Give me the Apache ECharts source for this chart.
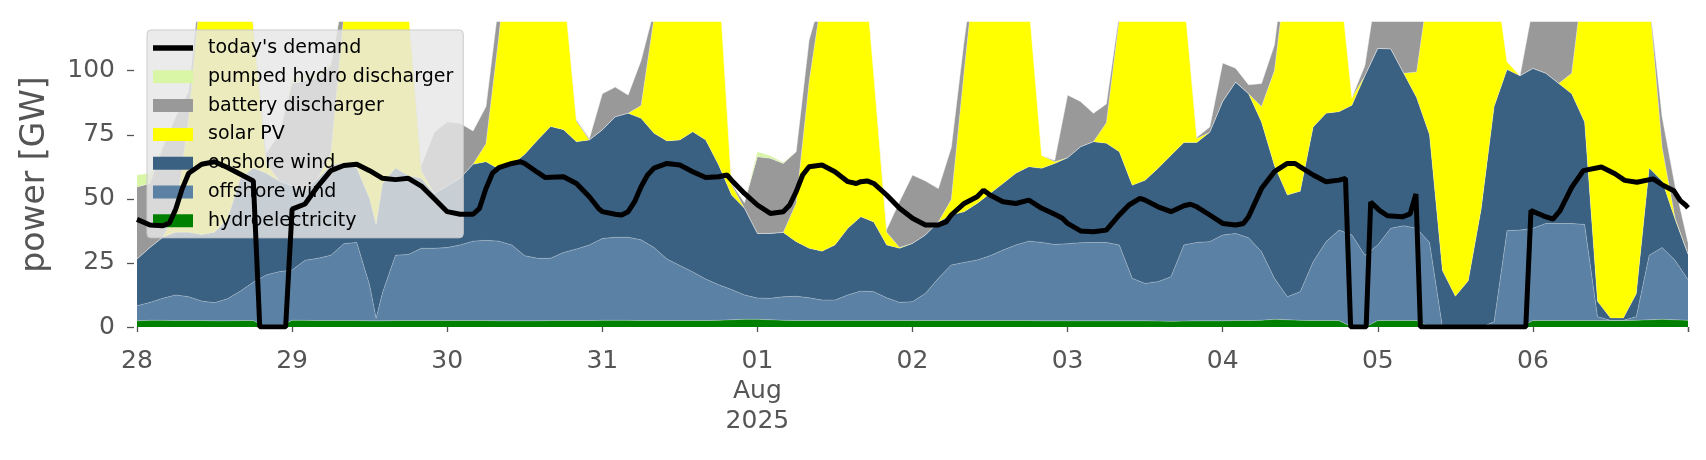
<!DOCTYPE html>
<html><head><meta charset="utf-8">
<script src="https://cdn.jsdelivr.net/npm/echarts@6/dist/echarts.min.js"></script>
<style>html,body{margin:0;padding:0;background:#fff}#c{width:1706px;height:460px}</style>
</head><body><div id="c"></div>
<script>
// hours since 2025-07-28 00:00
const hours = [
 0,2,4,6,8,10,12,14,16,18,20,22,
 24,26,28,30,32,34,36,37,38,40,42,44,46,
 48,50,52,54,56,58,60,62,64,66,68,70,
 72,74,76,78,80,82,84,86,88,90,92,94,
 96,98,100,102,104,106,108,110,112,114,116,118,
 120,122,124,126,128,130,132,134,136,138,140,142,
 144,146,148,150,152,154,156,158,160,162,164,166,
 168,170,172,174,176,178,180,182,184,186,188,190,
 192,194,196,198,200,202,204,206,208,210,212,214,
 216,218,220,222,224,226,228,230,232,234,236,238,
 240];
const hydro = [
 2.4,2.6,2.6,2.5,2.5,2.5,2.4,2.4,2.5,2.5,0,0,
 2.6,2.6,2.5,2.5,2.5,2.5,2.4,2.4,2.4,2.5,2.5,2.5,2.5,
 2.5,2.5,2.5,2.5,2.4,2.4,2.4,2.4,2.5,2.5,2.5,2.5,
 2.6,2.6,2.6,2.5,2.5,2.5,2.5,2.5,2.5,2.6,2.8,3.0,
 3.0,2.8,2.6,2.5,2.5,2.5,2.5,2.5,2.5,2.5,2.5,2.5,
 2.5,2.5,2.5,2.5,2.5,2.5,2.5,2.5,2.5,2.5,2.4,2.4,
 2.4,2.4,2.4,2.4,2.4,2.4,2.4,2.3,2.2,2.3,2.4,2.4,
 2.4,2.5,2.5,2.6,3.0,2.8,2.6,2.5,2.5,2.5,0,0,
 2.5,2.5,2.5,2.5,0,0,0,0,0,0,0,0,
 2.5,2.5,2.5,2.5,2.5,2.5,2.5,2.5,2.6,2.8,3.0,2.8,
 2.6];
const offshoreWind = [
 5.9,7.0,8.6,10.0,9.3,7.6,7.1,8.6,11.5,15,20.3,21.6,
 19.6,23.4,24.3,25.5,30,30.5,13.9,1.0,11.1,25.5,25.8,28.2,28.2,
 28.5,29.5,31,31.3,31.1,29.6,25.4,24.4,24.3,26.6,27.9,29.5,
 31.9,32.4,32.4,31.5,28.5,24,21.5,19,16.2,13.9,11.8,9.5,
 8.3,8.4,9.2,9.5,8.9,8,8,10,11.5,11.3,8.9,7.1,
 7.4,10.6,16.5,21.7,22.7,23.6,25.3,27.5,29.5,31,30.6,29.8,
 30.1,30.5,30.6,30.6,29.6,16.6,14.6,15.4,17.4,29.7,30.6,30.9,
 33.5,34,32.3,26.8,16,9,11.2,23,30.8,35.3,35.9,28,
 29.5,36,37,36,33,0,0,0,0,2,37.6,37.8,
 36,37.9,37.9,37.9,37.5,1.5,0.1,0.1,1.4,25.2,28,23.2,
 15.9];
const onshoreWind = [
 18.2,21.4,23.8,24.5,25.2,25.9,27.5,31,44,44.5,39.7,35.4,
 32.8,27,31.2,35,31.5,29,33.7,36.6,42.5,34,30.7,27.3,21.3,
 24,26,30,30.7,28.1,31.2,39.6,46.2,51.4,47.9,41.9,41,
 42.4,47,48.4,47.4,44.6,46.1,49,54.7,54.3,46.7,36.9,33.8,
 25.2,25.3,25.1,21.3,19.3,19.1,21.5,26,29,27.2,20.6,21.1,
 22.7,22.8,22,19.5,19.8,22.1,24.3,26,28,29,28.9,31.6,
 33.5,37.4,39.3,38.7,36.4,36.3,40.3,44.2,47.4,40,39,42.7,
 52.1,59,56.2,50.6,44,39.7,39.2,52.5,50.1,46.2,50.6,70,
 76.7,70,59.5,51,42,22,12,18,46,84,62.9,60.2,
 62.4,58.6,54.6,50.6,40,6,0.9,0.9,9,34,26,16,
 9.9];
const solarPV = [
 0,0,0,8,45,100,125,125,100,55,4,0,
 0,0,0,5,58,100,120,125,125,95,65,3,0,
 0,0,0,7,52,100,125,125,100,57,8,0,
 0,0,0,5,45,100,125,125,105,75,4,0,
 0,0,0,15,65,100,120,125,115,58,5,0.3,
 0,0,0,6,55,100,125,125,105,64,5,0.7,
 0,0,0,8,52,100,125,125,100,58,1.5,0,
 0,0,0,6,37,90,125,125,105,55,3,0,
 0,0,0,10,60,125,125,125,105,55,3,0,
 0,0,0,8,60,120,130,128,115,66,13,0.5,
 0];
const batteryDischarger = [
 28.1,25,35,37,10,4,0,0,0,1,4,18,
 40,43,39,34,8,0,0,0,0,0,0,2,24,
 25,21.5,13,14.5,13.4,0,0,0,0,0,0.5,0.5,
 14.1,11.6,7.1,17.6,3,0,0,0,0,0,0.5,2.2,
 29.9,29.3,26.9,20.1,16.3,0,0,0,0,0,1,18,
 26.7,21.1,13,20.3,12,0,0,0,0,0,0,0.5,
 24.5,17.7,11.1,7.3,2,0,0,0,0,0,0.5,2,
 15,5.5,3.5,9,10,8.5,0,0,0,0,0,4,
 26.3,26.5,31,30.5,0,0,0,0,0,0,0,0,
 24.1,36,40,36,0,0,0,0,0,0,12,12.5,
 4.6];
const pumpedHydro = [
 4.7,4,1,0,0,0,0,0,0,0,0,0,
 2,3,2,1,0,0,0,0,0,0,0,0,0,
 0,0,0,0,0,0,0,0,0,0,0,0,
 0,0,0,0,0,0,0,0,0,0,0,0,
 2,1,0.5,0,0,0,0,0,0,0,0,0,
 0,0,0,0,0,0,0,0,0,0,0,0,
 0,0,0,0,0,0,0,0,0,0,0,0,
 0,0,0,0,0,0,0,0,0,0,0,0,
 0,0,0,0,0,0,0,0,0,0,0,0,
 0,0,0,0,0,0,0,0,0,0,0,0,
 0];
const demandHours = [0,2,4,5,6,7,8,10,12,14,16,18,19,23,24,26,28,30,32,34,36,38,40,42,44,46,48,50,52,53,54,55,56,58,59.3,60,62,63.2,64,66,68,70,71.4,72,74,75,76,77,78,79,80,82,84,86,88,90,91.3,92,94,96,98,100,101,102,103,104,106,108,110,111.3,112,113,114,116,118,120,122,124,125.2,126,128,130,131,132,134,136,138,140,142,143.2,144,146,148,150,152,153.5,155.2,156,158,160,162,163,164,166,168,170,171.2,172,174,176,178,179.2,180,182,184,186,187,187.8,190.2,190.9,192.3,193.5,195.8,197,197.9,198.6,214.9,215.7,217.6,219.1,220.2,222,223.8,226.6,228.7,230.2,232.1,234.6,236.2,237.8,238.8,239.7,240];
const demand = [42,39.8,39.5,40.5,46,54,60,63.5,64.5,62.2,59.6,57,0,0,46,48,55,61,63,63.5,61,58,57.5,58,55,50,45,44,44,46.3,54,60,62.2,63.8,64.5,63.8,60.3,58.3,58.4,58.6,56,50.8,46.3,45,44,43.7,45,48.9,54.7,59.3,62,63.8,63.2,60.6,58.3,58.6,59.3,57.3,52.1,47.6,44.3,45,47.6,52.8,59.3,62.5,63.2,60.6,56.7,56,56.7,57,56,51.5,46.3,42.4,39.8,39.8,41,43.7,48.2,50.8,53.4,51.5,48.9,48.2,49.5,46.3,44,42.4,40.4,37.5,37.2,37.8,43.7,47.6,50.2,49.5,46.9,45,47.3,47.9,46.9,43.7,40.4,39.8,40.4,43,54,60.6,63.8,63.8,62.5,59.3,56.7,57.3,58,0,0,48.7,45.4,43.4,43,44.1,51.9,0,0,45.4,43.4,42.1,45.4,54.5,61,62.4,59.8,57.2,56.5,57.8,55.2,53.2,49.3,47.4,46.5];
const dayLabels = ['28','29','30','31','01\nAug\n2025','02','03','04','05','06',''];
const yTicks = [0,25,50,75,100];

const START = new Date(2025,6,28).getTime(), HOUR = 3600e3, DAY = 24*HOUR;
const toPts = arr => arr.map((v, i) => [START + hours[i]*HOUR, v]);
const FONT = 'DejaVu Sans';

function area(name, arr, color) {
  return { name, type: 'line', stack: 'supply', data: toPts(arr), symbol: 'none', showSymbol: false,
    lineStyle: { width: 0.6, color: 'rgba(255,255,255,0.45)' },
    areaStyle: { color, opacity: 1 }, itemStyle: { color }, emphasis: { disabled: true }, z: 2 };
}

const chart = echarts.init(document.getElementById('c'), null, { renderer: 'canvas' });
chart.setOption({
  animation: false,
  backgroundColor: '#ffffff',
  grid: { left: 137, right: 18, top: 22, bottom: 133, containLabel: false },
  xAxis: {
    type: 'time', min: START, max: START + 10*DAY, offset: 5,
    minInterval: DAY, maxInterval: DAY,
    axisLine: { show: false },
    splitLine: { show: false },
    axisTick: { show: true, length: 5, lineStyle: { color: '#555', width: 1.3 } },
    axisLabel: { fontSize: 25, lineHeight: 30, color: '#555', fontFamily: FONT, margin: 14,
      showMinLabel: true, showMaxLabel: true, hideOverlap: false,
      formatter: v => { const i = Math.round((v - START)/DAY); return dayLabels[i] !== undefined ? dayLabels[i] : ''; } }
  },
  yAxis: {
    type: 'value', min: 0, max: 119, offset: 3,
    name: 'power [GW]', nameLocation: 'middle', nameGap: 82,
    nameTextStyle: { fontSize: 33, color: '#555', fontFamily: FONT },
    axisLine: { show: false }, splitLine: { show: false },
    axisTick: { show: true, customValues: yTicks, length: 7, lineStyle: { color: '#555', width: 1.3 } },
    axisLabel: { customValues: yTicks, fontSize: 25, color: '#555', fontFamily: FONT, margin: 19 }
  },
  legend: {
    orient: 'vertical', left: 147, top: 30,
    padding: [8, 10, 7, 6],
    itemWidth: 40, itemHeight: 13, itemGap: 8.8,
    backgroundColor: 'rgba(230,230,230,0.82)', borderColor: '#cccccc', borderWidth: 1, borderRadius: 4,
    selectedMode: false,
    textStyle: { fontSize: 19, color: '#000', fontFamily: FONT, lineHeight: 20, padding: [0,0,0,10] },
    data: [
      { name: "today's demand", icon: 'path://M0,0H40V5.5H0Z' },
      { name: 'pumped hydro discharger', icon: 'rect' },
      { name: 'battery discharger', icon: 'rect' },
      { name: 'solar PV', icon: 'rect' },
      { name: 'onshore wind', icon: 'rect' },
      { name: 'offshore wind', icon: 'rect' },
      { name: 'hydroelectricity', icon: 'rect' }
    ]
  },
  series: [
    area('hydroelectricity', hydro, '#008000'),
    area('offshore wind', offshoreWind, '#5b82a5'),
    area('onshore wind', onshoreWind, '#3a6082'),
    area('solar PV', solarPV, '#ffff00'),
    area('battery discharger', batteryDischarger, '#999999'),
    area('pumped hydro discharger', pumpedHydro, '#d9f5a6'),
    { name: "today's demand", type: 'line', data: demand.map((v, i) => [START + demandHours[i]*HOUR, v]),
      symbol: 'none', showSymbol: false, lineStyle: { color: '#000', width: 5 }, itemStyle: { color: '#000' },
      emphasis: { disabled: true }, z: 5 }
  ]
});
</script>
</body></html>
